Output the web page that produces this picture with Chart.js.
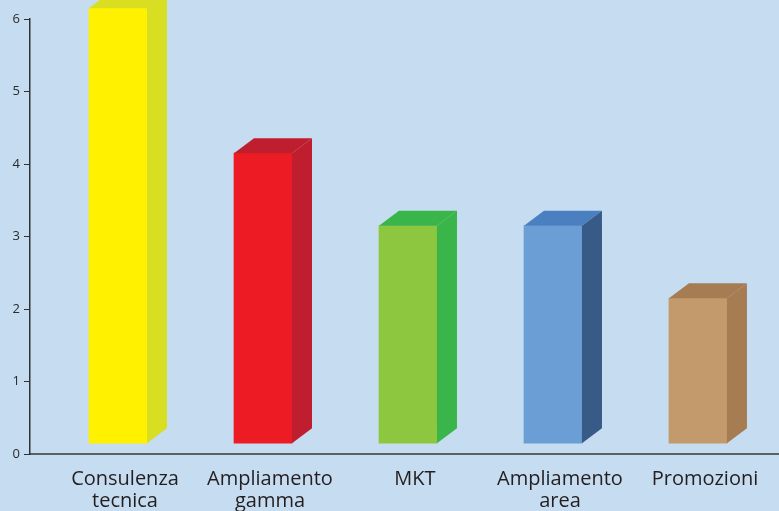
<!DOCTYPE html>
<html><head><meta charset="utf-8">
<script src="https://cdn.jsdelivr.net/npm/chart.js@4/dist/chart.umd.min.js"></script>
<style>html,body{margin:0;padding:0;background:#c6dcf0;overflow:hidden}canvas{display:block}</style>
</head><body><canvas id="c" width="779" height="511"></canvas>
<script>
const categories = [['Consulenza','tecnica'],['Ampliamento','gamma'],['MKT'],['Ampliamento','area'],['Promozioni']];
const values = [6, 4, 3, 3, 2];
const yTicks = [0, 1, 2, 3, 4, 5, 6];
const frontColors = ['#fff100', '#ed1c24', '#8dc63f', '#6a9ed5', '#c39a6b'];
const sideColors  = ['#d8de22', '#be1e2d', '#3ab54a', '#375a86', '#a67c52'];
const topColors   = ['#d9df20', '#be1e2d', '#3ab54a', '#4a7fc0', '#a67c52'];
const BASE = 0.15, DX = 20, DY = 15;

const box3d = {
  id: 'box3d',
  beforeDraw(chart) {
    const c = chart.ctx; c.save(); c.fillStyle = '#c6dcf0'; c.fillRect(0, 0, chart.width, chart.height); c.restore();
  },
  afterDatasetsDraw(chart) {
    const ctx = chart.ctx;
    chart.getDatasetMeta(0).data.forEach((bar, i) => {
      const p = bar.getProps(['x', 'y', 'base', 'width'], true);
      const l = p.x - p.width / 2, r = p.x + p.width / 2, t = p.y, b = p.base;
      ctx.save();
      ctx.fillStyle = topColors[i];
      ctx.beginPath(); ctx.moveTo(l, t); ctx.lineTo(l + DX, t - DY); ctx.lineTo(r + DX, t - DY); ctx.lineTo(r, t); ctx.closePath(); ctx.fill();
      ctx.fillStyle = sideColors[i];
      ctx.beginPath(); ctx.moveTo(r, t); ctx.lineTo(r + DX, t - DY); ctx.lineTo(r + DX, b - DY); ctx.lineTo(r, b); ctx.closePath(); ctx.fill();
      ctx.restore();
    });
  }
};

new Chart(document.getElementById('c'), {
  type: 'bar',
  data: {
    datasets: [{
      data: values.map((v, i) => ({ x: i, y: [BASE, v + BASE] })),
      backgroundColor: frontColors,
      borderWidth: 0,
      barThickness: 58,
      clip: false
    }]
  },
  options: {
    responsive: false,
    animation: false,
    layout: { padding: { top: 19, right: 0, left: 0, bottom: 0 } },
    plugins: { legend: { display: false }, tooltip: { enabled: false } },
    scales: {
      x: {
        type: 'linear', min: -0.607, max: 4.559, offset: false,
        afterBuildTicks: s => { s.ticks = categories.map((c, i) => ({ value: i })); },
        afterFit: s => { s.height = 57; },
        grid: { drawOnChartArea: false, drawTicks: false, offset: false },
        border: { display: true, color: '#5b6068', width: 2 },
        ticks: {
          autoSkip: false, maxRotation: 0, padding: 14, labelOffset: 7,
          color: '#231f20', font: { family: 'Open Sans', size: 20, lineHeight: 1.12 },
          callback: v => categories[v]
        }
      },
      y: {
        min: 0, max: 6,
        afterBuildTicks: s => { s.ticks = yTicks.map(v => ({ value: v })); },
        afterFit: s => { s.width = 30; },
        grid: { drawOnChartArea: false, drawTicks: true, tickLength: 6, color: '#2f3236', lineWidth: 1 },
        border: { display: true, color: '#2f3236', width: 1.5 },
        ticks: { padding: 4, color: '#2b2b2b', font: { family: 'Open Sans', size: 13 } }
      }
    }
  },
  plugins: [box3d]
});
</script></body></html>
